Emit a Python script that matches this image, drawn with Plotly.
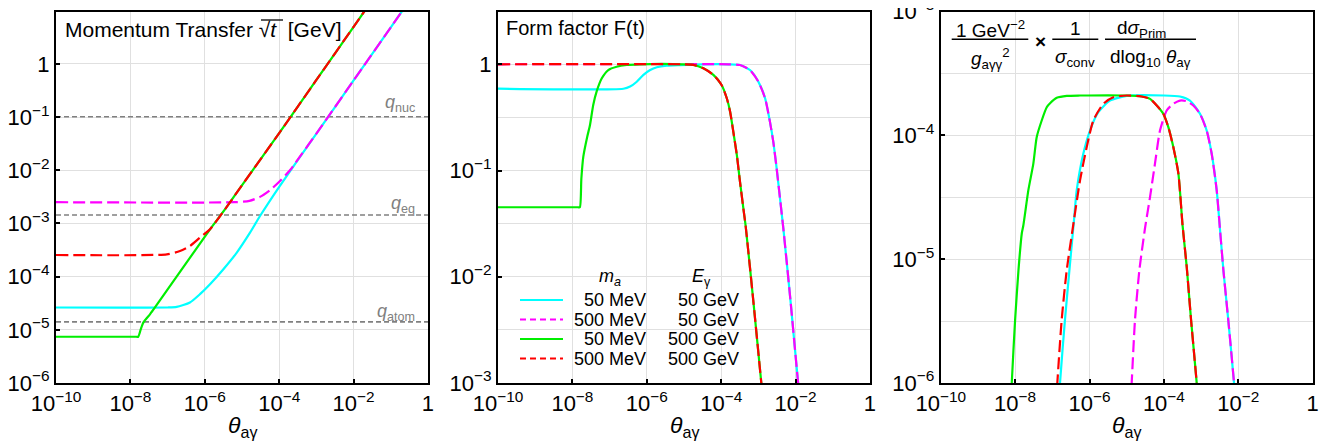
import numpy as np
import plotly.graph_objects as go

W, H = 1335, 445
OFF = 8  # page body margin in the browser
FONT = "Liberation Sans, Arial, sans-serif"

C_CYAN = "#00FFFF"
C_MAG = "#FF00FF"
C_GREEN = "#00EE00"
C_RED = "#FF0000"
GRID = "#E0E0E0"
REFGRAY = "#808080"

# ---------------- data (log10 values) ----------------
# Panel 1: momentum transfer sqrt(t) [GeV] vs theta
p1_cyan_lt = [-10, -7.0, -6.756, -6.40, -6.13, -5.86, -5.50, -5.14, -4.785, -4.516, -4.0, -3.0, -2.0, -1.0, -0.6]
p1_cyan_lq = [-4.58, -4.58, -4.57, -4.486, -4.33, -4.143, -3.86, -3.548, -3.173, -2.86, -2.31, -1.31, -0.31, 0.69, 1.09]
p1_mag_lt = [-10, -5.2, -4.8, -4.516, -4.247, -3.978, -3.7, -3.4, -3.0, -2.69, -2.0, -1.0, -0.6]
p1_mag_lq = [-2.6, -2.6, -2.575, -2.5, -2.373, -2.2, -1.99, -1.70, -1.31, -1.0, -0.31, 0.69, 1.09]
p1_green_lt = [-10, -7.84, -7.79, -7.72, -7.65, -7.47, -7.34, -5.86, -5.59, -5.32, -5.05, -4.0, -3.0, -2.0, -1.6]
p1_green_lq = [-5.131, -5.131, -5.131, -4.987, -4.861, -4.705, -4.58, -3.11, -2.86, -2.60, -2.33, -1.30, -0.30, 0.70, 1.10]
p1_red_lt = [-10, -7.02, -6.667, -6.398, -6.13, -5.86, -5.59, -5.32, -5.05, -4.0, -3.0, -2.0, -1.6]
p1_red_lq = [-3.593, -3.58, -3.518, -3.424, -3.266, -3.11, -2.86, -2.60, -2.33, -1.30, -0.30, 0.70, 1.10]
p1_ref_names = ["nuc", "eq", "atom"]
p1_ref_q = [0.102, 1.44e-3, 1.41e-5]

# Panel 2: form factor F(t) vs theta
p2_cyan_lt = [-10, -6.63, -6.45, -6.27, -6.09, -5.91, -5.73, -5.465, -5.11, -4.5, -3.8, -3.495, -3.226, -3.0, -2.82, -2.69, -2.60, -2.51, -2.42, -2.33, -2.13, -1.94, -1.75]
p2_cyan_lf = [-0.23, -0.23, -0.21, -0.164, -0.10, -0.054, -0.028, -0.013, -0.007, 0, 0, -0.007, -0.054, -0.164, -0.32, -0.54, -0.728, -0.978, -1.26, -1.543, -2.25, -2.97, -3.6]
p2_mag_lt = [-10, -3.8, -3.495, -3.226, -3.0, -2.82, -2.69, -2.60, -2.51, -2.42, -2.33, -2.13, -1.94, -1.75]
p2_mag_lf = [0, 0, -0.007, -0.054, -0.164, -0.32, -0.54, -0.728, -0.978, -1.26, -1.543, -2.25, -2.97, -3.6]
p2_green_lt = [-10, -7.85, -7.80, -7.76, -7.707, -7.60, -7.527, -7.44, -7.35, -7.21, -7.035, -6.81, -6.54, -6.2, -5.0, -4.75, -4.48, -4.21, -3.99, -3.85, -3.76, -3.675, -3.58, -3.495, -3.405, -3.34, -3.13, -2.93, -2.75]
p2_green_lf = [-1.346, -1.346, -1.346, -1.08, -0.87, -0.68, -0.571, -0.383, -0.258, -0.132, -0.054, -0.023, -0.007, 0, 0, -0.005, -0.038, -0.10, -0.195, -0.32, -0.446, -0.634, -0.853, -1.104, -1.355, -1.53, -2.25, -2.97, -3.6]
p2_red_lt = [-10, -5.0, -4.75, -4.48, -4.21, -3.99, -3.85, -3.76, -3.675, -3.58, -3.495, -3.405, -3.34, -3.13, -2.93, -2.75]
p2_red_lf = [0, 0, -0.005, -0.038, -0.10, -0.195, -0.32, -0.446, -0.634, -0.853, -1.104, -1.355, -1.53, -2.25, -2.97, -3.6]

# Panel 3: normalised differential cross section vs theta
p3_cyan_lt = [-6.85, -6.793, -6.66, -6.524, -6.417, -6.344, -6.167, -5.987, -5.763, -5.45, -5.0, -4.0, -3.567, -3.30, -3.03, -2.85, -2.715, -2.58, -2.49, -2.40, -2.27, -2.115, -2.05]
p3_cyan_ls = [-6.3, -6.0, -5.49, -5.035, -4.685, -4.444, -4.148, -3.96, -3.812, -3.718, -3.68, -3.677, -3.685, -3.718, -3.825, -3.96, -4.148, -4.444, -4.766, -5.09, -5.49, -6.0, -6.3]
p3_mag_lt = [-4.92, -4.866, -4.777, -4.66, -4.508, -4.373, -4.24, -4.105, -3.925, -3.747, -3.567, -3.387, -3.21, -3.03, -2.85, -2.715, -2.58, -2.49, -2.40, -2.27, -2.115, -2.05]
p3_mag_ls = [-6.3, -6.0, -5.49, -5.09, -4.75, -4.498, -4.228, -3.96, -3.798, -3.744, -3.718, -3.723, -3.758, -3.825, -3.96, -4.148, -4.444, -4.766, -5.09, -5.49, -6.0, -6.3]
p3_green_lt = [-8.14, -8.09, -8.0, -7.91, -7.82, -7.78, -7.645, -7.51, -7.42, -7.285, -7.15, -7.06, -6.88, -6.61, -6.255, -5.0, -4.6, -4.373, -4.15, -4.016, -3.88, -3.747, -3.61, -3.50, -3.387, -3.27, -3.118, -3.05]
p3_green_ls = [-6.35, -6.0, -5.49, -5.09, -4.79, -4.73, -4.444, -4.228, -4.014, -3.879, -3.772, -3.74, -3.696, -3.68, -3.677, -3.677, -3.685, -3.704, -3.772, -3.825, -3.933, -4.094, -4.309, -4.72, -5.06, -5.49, -6.0, -6.3]
p3_red_lt = [-6.92, -6.865, -6.748, -6.613, -6.46, -6.255, -6.075, -5.898, -5.629, -5.36, -5.0, -4.6, -4.373, -4.15, -4.016, -3.88, -3.747, -3.61, -3.50, -3.387, -3.27, -3.118, -3.05]
p3_red_ls = [-6.3, -6.0, -5.49, -5.09, -4.77, -4.363, -4.094, -3.879, -3.744, -3.691, -3.677, -3.685, -3.704, -3.772, -3.825, -3.933, -4.094, -4.309, -4.72, -5.06, -5.49, -6.0, -6.3]

legend_ma = ["50 MeV", "500 MeV", "50 MeV", "500 MeV"]
legend_eg = ["50 GeV", "50 GeV", "500 GeV", "500 GeV"]

x_tick_exp = [-10, -8, -6, -4, -2, 0]
p1_y_tick_exp = [-6, -5, -4, -3, -2, -1, 0]
p2_y_tick_exp = [-3, -2, -1, 0]
p3_y_tick_exp = [-6, -5, -4, -3]

# ---------------- helpers ----------------
def pw(v):
    return np.power(10.0, np.array(v, dtype=float))

def lab(e):
    return "1" if e == 0 else "10<sup>\u2212%d</sup>" % (-e)

def fx(px):
    return (px - OFF) / W

def fy(py):
    return 1 - (py - OFF) / H

DASH = "12px,5px"
LW = 2.2

series = {
    1: [(p1_cyan_lt, p1_cyan_lq, C_CYAN, "solid"), (p1_mag_lt, p1_mag_lq, C_MAG, DASH),
        (p1_green_lt, p1_green_lq, C_GREEN, "solid"), (p1_red_lt, p1_red_lq, C_RED, DASH)],
    2: [(p2_cyan_lt, p2_cyan_lf, C_CYAN, "solid"), (p2_mag_lt, p2_mag_lf, C_MAG, DASH),
        (p2_green_lt, p2_green_lf, C_GREEN, "solid"), (p2_red_lt, p2_red_lf, C_RED, DASH)],
    3: [(p3_cyan_lt, p3_cyan_ls, C_CYAN, "solid"), (p3_mag_lt, p3_mag_ls, C_MAG, DASH),
        (p3_green_lt, p3_green_ls, C_GREEN, "solid"), (p3_red_lt, p3_red_ls, C_RED, DASH)],
}

fig = go.Figure()

# reference q lines in panel 1
for q in p1_ref_q:
    fig.add_trace(go.Scatter(x=[1e-10, 1], y=[q, q], mode="lines", xaxis="x", yaxis="y",
                             line=dict(color=REFGRAY, width=1.6, dash="5px,3px"),
                             hoverinfo="skip", showlegend=False))

for i in (1, 2, 3):
    xa = "x" if i == 1 else "x%d" % i
    ya = "y" if i == 1 else "y%d" % i
    for lt, lv, col, dash in series[i]:
        fig.add_trace(go.Scatter(x=pw(lt), y=pw(lv), mode="lines", xaxis=xa, yaxis=ya,
                                 line=dict(color=col, width=LW, dash=dash,
                                           shape="spline", smoothing=0.6),
                                 showlegend=False))

TOP, BOT = 11.5, 383.0
doms = {1: (56, 428), 2: (498, 870), 3: (940.7, 1312.7)}
yranges = {1: [-6.0005, 0.987], 2: [-3.0005, 0.497], 3: [-6.0005, -2.998]}
ytick = {1: p1_y_tick_exp, 2: p2_y_tick_exp, 3: p3_y_tick_exp}
yminor = {1: [], 2: [-2.5, -1.5, -0.5], 3: [-5.5, -4.5, -3.5]}

TICKFONT = dict(family=FONT, size=22, color="black")
layout = dict(width=W, height=H, margin=dict(l=0, r=0, t=0, b=0, autoexpand=False),
              paper_bgcolor="white", plot_bgcolor="white", showlegend=False,
              font=dict(family=FONT, color="black"))

for i in (1, 2, 3):
    xk = "xaxis" if i == 1 else "xaxis%d" % i
    yk = "yaxis" if i == 1 else "yaxis%d" % i
    ya = "y" if i == 1 else "y%d" % i
    xa = "x" if i == 1 else "x%d" % i
    layout[xk] = dict(type="log", range=[-10.0005, 0.0005], domain=[fx(doms[i][0]), fx(doms[i][1])],
                      anchor=ya, tickvals=pw(x_tick_exp), ticktext=[lab(e) for e in x_tick_exp],
                      showgrid=True, gridcolor=GRID, gridwidth=1, ticks="inside", ticklen=4,
                      tickwidth=1.5, tickcolor="black", showline=True, linecolor="black",
                      linewidth=2, mirror=True, zeroline=False, tickfont=TICKFONT,
                      automargin=False, ticklabeloverflow="allow")
    yd = dict(type="log", range=yranges[i], domain=[fy(BOT), fy(TOP)], anchor=xa,
              tickvals=pw(ytick[i]), ticktext=[lab(e) for e in ytick[i]],
              showgrid=True, gridcolor=GRID, gridwidth=1, ticks="inside", ticklen=4,
              tickwidth=1.5, tickcolor="black", showline=True, linecolor="black",
              linewidth=2, mirror=True, zeroline=False, tickfont=TICKFONT,
              automargin=False, ticklabeloverflow="allow")
    if yminor[i]:
        yd["minor"] = dict(tickvals=pw(yminor[i]), showgrid=True, gridcolor=GRID, ticks="")
    layout[yk] = yd

fig.update_layout(**layout)

ann = []
shapes = []

def txt(x, y, s, size=20, xanchor="center", color="black", yanchor="middle"):
    ann.append(dict(x=fx(x), y=fy(y), xref="paper", yref="paper", text=s, showarrow=False,
                    xanchor=xanchor, yanchor=yanchor, borderpad=0,
                    font=dict(family=FONT, size=size, color=color)))

def hline(x0, x1, y, color="black", width=1.5, dash="solid"):
    shapes.append(dict(type="line", xref="paper", yref="paper", x0=fx(x0), x1=fx(x1),
                       y0=fy(y), y1=fy(y), line=dict(color=color, width=width, dash=dash)))

# axis titles
for i in (1, 2, 3):
    cx = (doms[i][0] + doms[i][1]) / 2
    txt(cx, 426, "<i>\u03b8</i><sub>a\u03b3</sub>", size=23)

# panel titles
txt(64, 30, "Momentum Transfer \u221a<i>t</i>  [GeV]", size=21, xanchor="left")
hline(261, 283, 20, width=1.3)
txt(505, 28, "Form factor F(t)", size=20, xanchor="left")

# q labels
txt(416, 104, "<i>q</i><sub>nuc</sub>", size=18, xanchor="right", color=REFGRAY)
txt(416, 205, "<i>q</i><sub>eq</sub>", size=18, xanchor="right", color=REFGRAY)
txt(416, 312, "<i>q</i><sub>atom</sub>", size=18, xanchor="right", color=REFGRAY)

# legend in panel 2
txt(610, 277, "<i>m<sub>a</sub></i>", size=18)
txt(701, 277, "<i>E</i><sub>\u03b3</sub>", size=18)
leg_y = [300, 319.5, 339, 358.5]
leg_style = [(C_CYAN, "solid"), (C_MAG, "6px,4px"), (C_GREEN, "solid"), (C_RED, "6px,4px")]
for k in range(4):
    hline(520, 563, leg_y[k], color=leg_style[k][0], width=2.2, dash=leg_style[k][1])
    txt(647, leg_y[k], legend_ma[k], size=18, xanchor="right")
    txt(740, leg_y[k], legend_eg[k], size=18, xanchor="right")

# panel 3 formula
txt(990, 29, "1 GeV<sup>\u22122</sup>", size=19)
hline(951.7, 1028.3, 39.3)
txt(990, 58, "<i>g</i><sub>a\u03b3\u03b3</sub><sup>2</sup>", size=19)
txt(1040, 41, "<b>\u00d7</b>", size=19)
txt(1075, 29, "1", size=19)
hline(1052.3, 1098.3, 39.3)
txt(1075, 58, "<i>\u03c3</i><sub>conv</sub>", size=19)
txt(1141, 29, "d<i>\u03c3</i><sub>Prim</sub>", size=19)
hline(1105, 1196, 39.3)
txt(1150.5, 58, "dlog<sub>10</sub> <i>\u03b8</i><sub>a\u03b3</sub>", size=19)

fig.update_layout(annotations=ann, shapes=shapes)
fig.write_html("out.html")
